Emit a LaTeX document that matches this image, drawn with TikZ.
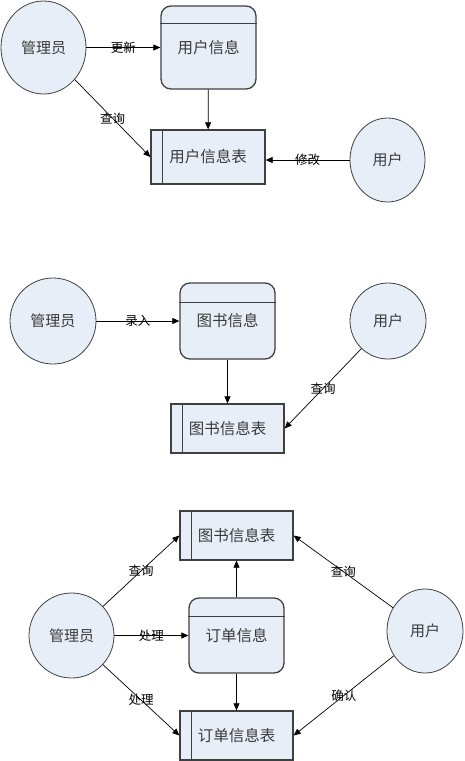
\documentclass[tikz,border=0pt]{standalone}
\usepackage{fontspec}
\setmainfont{Noto Sans CJK SC}
\usetikzlibrary{shapes.geometric,arrows.meta}
\definecolor{boxfill}{HTML}{E8EEF8}
\definecolor{boxline}{HTML}{404040}
\definecolor{txt}{HTML}{3A3A3A}
\tikzset{
  ent/.style={ellipse,draw=boxline,line width=0.8pt,fill=boxfill,inner sep=0pt,
    font=\fontsize{15}{16}\selectfont,text=txt},
  proc/.style={rectangle,rounded corners=10pt,draw=boxline,line width=1.3pt,fill=boxfill,
    inner sep=0pt,font=\fontsize{15.5}{16}\selectfont,text=txt},
  store/.style={rectangle,draw=boxline,line width=1.3pt,fill=boxfill,
    inner sep=0pt,font=\fontsize{15.5}{16}\selectfont,text=txt},
  arr/.style={line width=0.7pt,-{Triangle[length=7pt,width=6pt]}},
  lbl/.style={font=\fontsize{12.5}{13}\selectfont,inner sep=0pt,text=black},
  sep/.style={draw=boxline,line width=1.1pt}
}
\begin{document}
\begin{tikzpicture}[x=1pt,y=-1pt]
\useasboundingbox (0,0) rectangle (464,761);
% ---------- Section 1 ----------
\node[ent,minimum width=85,minimum height=93] (a1) at (43.5,47.5) {管理员};
\node[proc,minimum width=95,minimum height=83] (p1) at (208.5,47.5) {用户信息};
\draw[sep] ([yshift=-18pt]p1.north west) -- ([yshift=-18pt]p1.north east);
\node[store,minimum width=114,minimum height=54] (s1) at (208,157) {用户信息表};
\draw[sep] ([xshift=12pt]s1.north west) -- ([xshift=12pt]s1.south west);
\node[ent,minimum width=75,minimum height=84] (u1) at (387.5,160) {用户};
\draw[arr] (a1) -- node[lbl] (l1a) {更新} (p1);
\draw[arr] (p1) -- (s1);
\draw[arr] (a1) -- node[lbl] (l1b) {查询} (s1.west);
\draw[arr] (u1) -- node[lbl] (l1c) {修改} (s1.east |- u1);
% ---------- Section 2 ----------
\node[ent,minimum width=86,minimum height=86] (a2) at (53,321) {管理员};
\node[proc,minimum width=95,minimum height=76] (p2) at (227.5,321) {图书信息};
\draw[sep] ([yshift=-20pt]p2.north west) -- ([yshift=-20pt]p2.north east);
\node[store,minimum width=113,minimum height=49] (s2) at (227.5,428.5) {图书信息表};
\draw[sep] ([xshift=12pt]s2.north west) -- ([xshift=12pt]s2.south west);
\node[ent,minimum width=76,minimum height=76] (u2) at (388,321) {用户};
\draw[arr] (a2) -- node[lbl] (l2a) {录入} (p2);
\draw[arr] (p2) -- (s2);
\draw[arr] (u2) -- node[lbl] (l2b) {查询} (s2.east);
% ---------- Section 3 ----------
\node[store,minimum width=113,minimum height=49] (s3) at (236.5,535.5) {图书信息表};
\draw[sep] ([xshift=12pt]s3.north west) -- ([xshift=12pt]s3.south west);
\node[proc,minimum width=95,minimum height=75] (p3) at (236.5,635.5) {订单信息};
\draw[sep] ([yshift=-19pt]p3.north west) -- ([yshift=-19pt]p3.north east);
\node[store,minimum width=113,minimum height=49] (s4) at (236.5,735.5) {订单信息表};
\draw[sep] ([xshift=12pt]s4.north west) -- ([xshift=12pt]s4.south west);
\node[ent,minimum width=85,minimum height=85] (a3) at (71.5,635.5) {管理员};
\node[ent,minimum width=76,minimum height=84] (u3) at (425,631) {用户};
\draw[arr] (p3) -- (s3);
\draw[arr] (p3) -- (s4);
\draw[arr] (a3) -- node[lbl] (l3a) {处理} (p3);
\draw[arr] (a3) -- node[lbl] (l3b) {查询} (s3.west);
\draw[arr] (a3) -- node[lbl] (l3c) {处理} (s4.west);
\draw[arr] (u3) -- node[lbl] (l3d) {查询} (s3.east);
\draw[arr] (u3) -- node[lbl] (l3e) {确认} (s4.east);
\end{tikzpicture}
\end{document}
